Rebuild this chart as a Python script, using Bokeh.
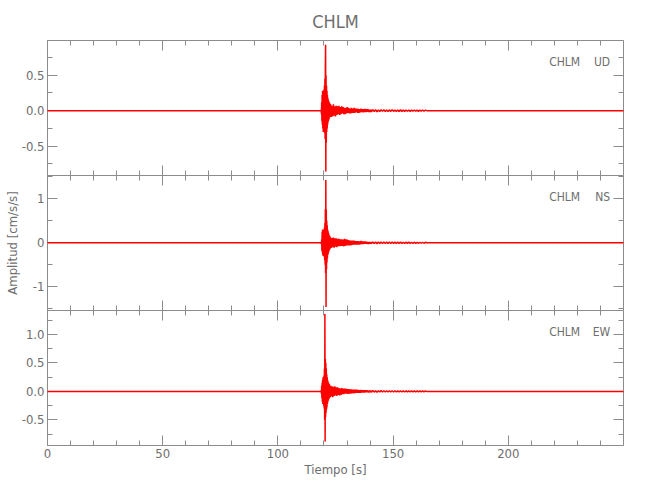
import numpy as np
from bokeh.plotting import figure
from bokeh.layouts import column
from bokeh.models import (FixedTicker, LinearAxis, Label, Range1d,
                          PrintfTickFormatter, Title, CustomLabelingPolicy)
from bokeh.embed import file_html
from bokeh.resources import INLINE

# ---------------- data ----------------
station = "CHLM"
components = ["UD", "NS", "EW"]
x_major = [0, 50, 100, 150, 200]
x_minor = [10 * i for i in range(26)]

# sampling grid pieces (s): quiet, burst core, coda, tail, quiet
t_pre = [0.0, 118.7]
t_core = [round(118.8 + 0.1 * i, 2) for i in range(40)]
t_coda = [round(122.9 + 0.3 * i, 2) for i in range(60)]
t_tail = [round(141.2 + 0.6 * i, 2) for i in range(40)]
t_post = [165.2, 250.0]

ud_core = [0.01, -0.05, 0.12, -0.15, 0.22, -0.2, 0.28, -0.25, 0.18, -0.3,
           0.25, -0.22, 0.3, -0.28, 0.35, -0.32, 0.45, -0.4, 0.6, 0.93,
           -0.86, 0.5, -0.45, 0.35, -0.3, 0.28, -0.25, 0.22, -0.2, 0.18,
           -0.16, 0.15, -0.14, 0.13, -0.12, 0.12, -0.1, 0.1, -0.09, 0.09]
ud_coda = [0.08, -0.09, 0.07, -0.08, 0.09, -0.07, 0.06, -0.08, 0.07, -0.06,
           0.06, -0.05, 0.07, -0.06, 0.05, -0.05, 0.06, -0.04, 0.05, -0.05,
           0.04, -0.05, 0.04, -0.04, 0.05, -0.03, 0.04, -0.04, 0.03, -0.04,
           0.04, -0.03, 0.03, -0.03, 0.04, -0.03, 0.03, -0.02, 0.03, -0.03,
           0.025, -0.03, 0.02, -0.025, 0.03, -0.02, 0.02, -0.025, 0.02, -0.02,
           0.025, -0.02, 0.02, -0.015, 0.02, -0.02, 0.015, -0.02, 0.015, -0.015]
ud_tail = [0.015, -0.012, 0.012, -0.015, 0.01, -0.012, 0.013, -0.01, 0.012, -0.011,
           0.01, -0.012, 0.011, -0.01, 0.012, -0.01, 0.01, -0.011, 0.01, -0.01,
           0.011, -0.01, 0.009, -0.01, 0.01, -0.009, 0.01, -0.01, 0.009, -0.009,
           0.01, -0.009, 0.008, -0.01, 0.009, -0.008, 0.009, -0.008, 0.008, 0.0]

ns_core = [0.01, -0.03, 0.08, -0.18, 0.25, -0.22, 0.3, -0.28, 0.22, -0.3,
           0.28, -0.25, 0.3, -0.32, 0.35, -0.4, 0.45, -0.5, 0.77, -0.69,
           1.43, -1.46, 0.75, -0.6, 0.5, -0.45, 0.4, -0.35, 0.3, -0.28,
           0.26, -0.24, 0.22, -0.2, 0.18, -0.17, 0.16, -0.15, 0.14, -0.13]
ns_coda = [0.12, -0.12, 0.11, -0.1, 0.12, -0.11, 0.1, -0.09, 0.1, -0.1,
           0.09, -0.08, 0.09, -0.08, 0.08, -0.07, 0.08, -0.07, 0.07, -0.08,
           0.09, -0.07, 0.08, -0.06, 0.07, -0.06, 0.06, -0.06, 0.05, -0.06,
           0.05, -0.05, 0.05, -0.04, 0.05, -0.04, 0.04, -0.04, 0.04, -0.04,
           0.035, -0.04, 0.03, -0.035, 0.04, -0.03, 0.03, -0.03, 0.03, -0.025,
           0.03, -0.025, 0.025, -0.025, 0.02, -0.025, 0.02, -0.02, 0.02, -0.02]
ns_tail = [0.02, -0.018, 0.018, -0.02, 0.016, -0.018, 0.02, -0.015, 0.017, -0.016,
           0.015, -0.017, 0.016, -0.015, 0.017, -0.014, 0.015, -0.016, 0.014, -0.015,
           0.015, -0.014, 0.013, -0.015, 0.014, -0.013, 0.014, -0.013, 0.012, -0.013,
           0.013, -0.012, 0.012, -0.013, 0.012, -0.011, 0.012, -0.011, 0.011, 0.0]

ew_core = [0.01, -0.04, 0.1, -0.12, 0.15, -0.18, 0.2, -0.22, 0.25, -0.2,
           0.22, -0.25, 0.28, -0.3, 0.4, -0.5, 1.36, -0.88, 0.57, -0.45,
           0.5, -0.38, 0.4, -0.32, 0.3, -0.28, 0.25, -0.22, 0.2, -0.18,
           0.17, -0.16, 0.15, -0.14, 0.13, -0.12, 0.12, -0.11, 0.1, -0.1]
ew_coda = [0.1, -0.09, 0.09, -0.1, 0.08, -0.08, 0.09, -0.07, 0.07, -0.08,
           0.07, -0.06, 0.06, -0.07, 0.05, -0.06, 0.06, -0.05, 0.05, -0.05,
           0.05, -0.04, 0.05, -0.04, 0.04, -0.045, 0.04, -0.04, 0.035, -0.04,
           0.035, -0.03, 0.03, -0.035, 0.03, -0.03, 0.03, -0.025, 0.03, -0.025,
           0.025, -0.025, 0.02, -0.025, 0.025, -0.02, 0.02, -0.02, 0.02, -0.02,
           0.02, -0.015, 0.02, -0.015, 0.015, -0.02, 0.015, -0.015, 0.015, -0.015]
ew_tail = [0.015, -0.013, 0.012, -0.014, 0.011, -0.012, 0.013, -0.011, 0.012, -0.011,
           0.011, -0.012, 0.011, -0.01, 0.012, -0.01, 0.011, -0.011, 0.01, -0.01,
           0.011, -0.01, 0.01, -0.01, 0.01, -0.009, 0.01, -0.01, 0.009, -0.009,
           0.01, -0.009, 0.009, -0.01, 0.009, -0.008, 0.009, -0.008, 0.008, 0.0]

quiet = [0.0, 0.0]

y_ranges = [(-0.915, 0.99), (-1.54, 1.53), (-0.95, 1.42)]
y_major = [[-0.5, 0.0, 0.5], [-1, 0, 1], [-0.5, 0.0, 0.5, 1.0]]
y_minor = [[-0.75, -0.5, -0.25, 0, 0.25, 0.5, 0.75],
           [-1.5, -1, -0.5, 0, 0.5, 1, 1.5],
           [-0.75, -0.5, -0.25, 0, 0.25, 0.5, 0.75, 1.0, 1.25]]
y_fmt = ["%.1f", "%d", "%.1f"]
label_y = [0.69, 1.05, 1.05]

series = [ud_core + ud_coda + ud_tail,
          ns_core + ns_coda + ns_tail,
          ew_core + ew_coda + ew_tail]

# ---------------- styling ----------------
FONT = "Liberation Sans Narrow, DejaVu Sans Condensed, Liberation Sans"
TXT = "#6e6e6e"
AX = "#8c8c8c"
TRACE = "#ff0000"
FRAME_W = 576
FRAME_H = 135

HIDE = "for (const i of [...indices]) { indices.unset(i) } return indices"


def style_axis(ax, show_labels, ticker, fmt=None):
    ax.ticker = ticker
    if fmt is not None:
        ax.formatter = fmt
    ax.axis_line_color = AX
    ax.major_tick_line_color = AX
    ax.minor_tick_line_color = AX
    ax.major_tick_in = 10
    ax.major_tick_out = 0
    ax.minor_tick_in = 5
    ax.minor_tick_out = 0
    ax.major_label_standoff = 3 if show_labels else 0
    ax.major_label_text_font = FONT
    ax.major_label_text_color = TXT
    if show_labels:
        ax.major_label_text_font_size = "13px"
    else:
        ax.major_label_text_font_size = "0px"
        ax.major_label_policy = CustomLabelingPolicy(code=HIDE)


figs = []
for i, comp in enumerate(components):
    top = 40 if i == 0 else 0
    bottom = 45 if i == 2 else 0
    p = figure(frame_width=FRAME_W, frame_height=FRAME_H,
               x_range=Range1d(0, 250), y_range=Range1d(*y_ranges[i]),
               output_backend="svg", toolbar_location=None,
               x_axis_location=None, y_axis_location=None,
               min_border_left=47, min_border_right=27,
               min_border_top=top, min_border_bottom=bottom)
    p.outline_line_color = None
    p.grid.visible = False
    p.background_fill_color = "white"
    p.border_fill_color = "white"

    left = LinearAxis()
    style_axis(left, True, FixedTicker(ticks=y_major[i], minor_ticks=y_minor[i]),
               PrintfTickFormatter(format=y_fmt[i]))
    if i == 1:
        left.axis_label = "Amplitud [cm/s/s]"
        left.axis_label_text_font = FONT
        left.axis_label_text_font_style = "normal"
        left.axis_label_text_font_size = "13px"
        left.axis_label_text_color = TXT
        left.axis_label_standoff = 10
    p.add_layout(left, "left")

    right = LinearAxis()
    style_axis(right, False, FixedTicker(ticks=y_major[i], minor_ticks=y_minor[i]))
    p.add_layout(right, "right")

    above = LinearAxis()
    style_axis(above, False, FixedTicker(ticks=x_major, minor_ticks=x_minor))
    p.add_layout(above, "above")

    below = LinearAxis()
    style_axis(below, i == 2, FixedTicker(ticks=x_major, minor_ticks=x_minor),
               PrintfTickFormatter(format="%d"))
    if i == 2:
        below.axis_label = "Tiempo [s]"
        below.axis_label_text_font = FONT
        below.axis_label_text_font_style = "normal"
        below.axis_label_text_font_size = "13px"
        below.axis_label_text_color = TXT
        below.axis_label_standoff = 1
    p.add_layout(below, "below")

    t = t_pre + t_core + t_coda + t_tail + t_post
    v = quiet + series[i] + quiet
    p.line(t, v, line_color=TRACE, line_width=1.5, level="overlay")

    p.add_layout(Label(x=231.2, y=label_y[i], text=station, text_align="right",
                       text_baseline="middle", text_font=FONT,
                       text_font_size="12px", text_color=TXT))
    p.add_layout(Label(x=244.2, y=label_y[i], text=comp, text_align="right",
                       text_baseline="middle", text_font=FONT,
                       text_font_size="12px", text_color=TXT))

    if i == 0:
        p.title = Title(text=station, align="center", text_font=FONT,
                        text_font_size="18px", text_font_style="normal",
                        text_color=TXT, standoff=17, offset=5)
    figs.append(p)

layout = column(*figs, spacing=0)
open("out.html", "w").write(file_html(layout, INLINE))
